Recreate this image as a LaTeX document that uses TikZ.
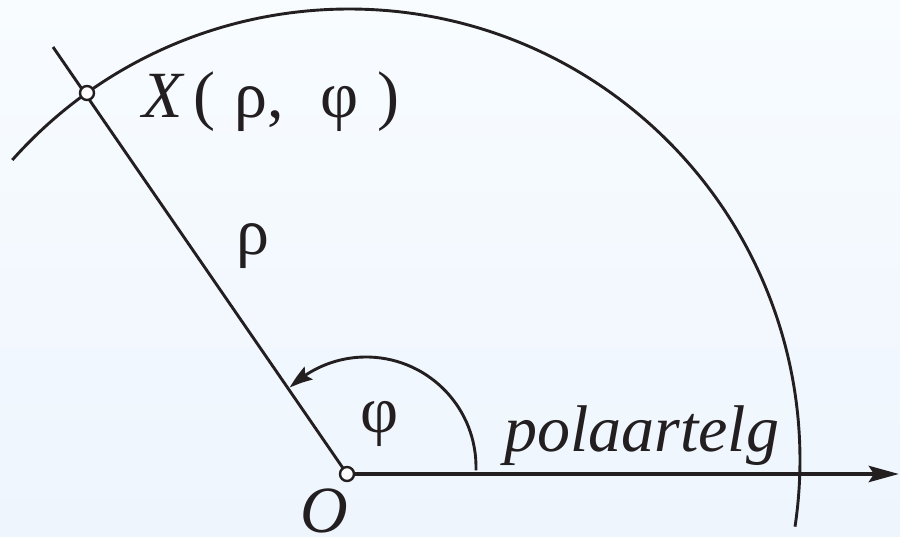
\documentclass[tikz,border=0pt]{standalone}
\usepackage{fontspec}
\setmainfont{Liberation Serif}
\usetikzlibrary{arrows.meta,bending}
\definecolor{ink}{HTML}{231F20}
\definecolor{bgtop}{HTML}{F8FCFF}
\definecolor{bgbot}{HTML}{EEF5FD}
\tikzset{
  thinline/.style={draw=ink, line width=2.9pt},
  axisline/.style={draw=ink, line width=4.6pt, -{Stealth[length=30pt,width=16pt,inset=5pt]}},
  anglearrow/.style={draw=ink, line width=2.9pt, -{Stealth[length=24pt,width=15pt,inset=4pt,bend]}},
  pointmark/.style={circle, draw=ink, fill=white, line width=2.4pt, minimum size=14pt, inner sep=0pt},
  lbl/.style={text=ink, font=\fontsize{66}{78}\selectfont, inner sep=0pt}
}
\begin{document}
\begin{tikzpicture}[x=1pt,y=1pt]
\shade[top color=bgtop, bottom color=bgbot] (0,0) rectangle (900,537);
\useasboundingbox (0,0) rectangle (900,537);
% key points
\coordinate (Opos) at (347,63);
\coordinate (Xpos) at (87,444);
\coordinate (Ltop) at (53,490);
\coordinate (Aend) at (899,63);
% big arc
\draw[thinline] (349,77) ++(138.3:451) arc[start angle=138.3, end angle=-8.5, radius=451];
% ray through X
\draw[thinline] (Opos) -- (Ltop);
% polar axis
\draw[axisline] (Opos) -- (Aend);
% angle arc
\draw[anglearrow] (366,70) ++(-1.7:110) arc[start angle=-1.7, end angle=133.9, radius=110];
% points
\node[pointmark] (O) at (Opos) {};
\node[pointmark] (X) at (Xpos) {};
% labels
\node[lbl, anchor=base west] (xl) at (142,419) {\textit{X}\kern 0.14em(\kern 0.28em ρ,\kern 0.55em φ\kern 0.3em)};
\node[lbl, anchor=base] (rho) at (253,282) {ρ};
\node[lbl, anchor=base] (phi) at (380,104) {φ};
\node[lbl, anchor=base] (ol) at (324,4) {\textit{O}};
\node[lbl, anchor=base west] (pa) at (504,85) {\textit{polaartelg}};
\end{tikzpicture}
\end{document}
